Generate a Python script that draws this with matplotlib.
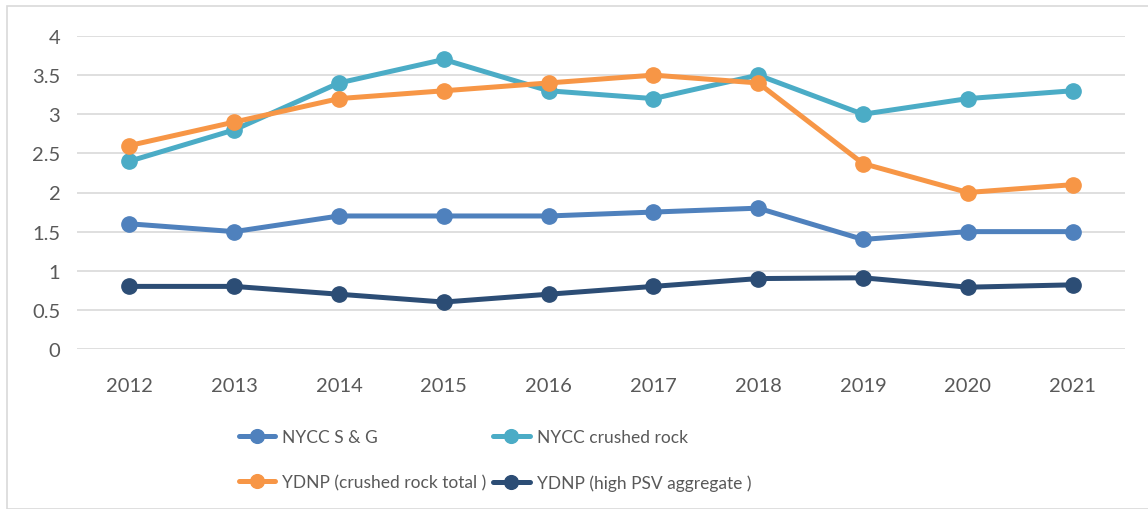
import matplotlib.pyplot as plt
from matplotlib.patches import Rectangle

years = ['2012', '2013', '2014', '2015', '2016', '2017', '2018', '2019', '2020', '2021']

nycc_sg = [1.6, 1.5, 1.7, 1.7, 1.7, 1.75, 1.8, 1.4, 1.5, 1.5]
nycc_crushed = [2.4, 2.8, 3.4, 3.7, 3.3, 3.2, 3.5, 3.0, 3.2, 3.3]
ydnp_total = [2.6, 2.9, 3.2, 3.3, 3.4, 3.5, 3.4, 2.37, 2.0, 2.1]
ydnp_psv = [0.8, 0.8, 0.7, 0.6, 0.7, 0.8, 0.9, 0.91, 0.79, 0.82]

series = [
    ('NYCC S & G', nycc_sg, '#4F81BD'),
    ('NYCC crushed rock', nycc_crushed, '#4BACC6'),
    ('YDNP (crushed rock total )', ydnp_total, '#F79646'),
    ('YDNP (high PSV aggregate )', ydnp_psv, '#2C4D75'),
]

plt.rcParams['font.family'] = ['Lato', 'DejaVu Sans']

fig = plt.figure(figsize=(11.48, 5.10), dpi=100)
ax = fig.add_axes([77 / 1148, 1 - 350 / 510, 1048 / 1148, 313 / 510])

x = list(range(len(years)))
lines = []
for label, values, color in series:
    ln, = ax.plot(x, values, color=color, lw=3.6, marker='o', ms=11,
                  solid_capstyle='round', label=label)
    lines.append(ln)

ax.set_xlim(-0.5, len(years) - 0.5)
ax.set_ylim(0, 4)
ax.set_yticks([0, 0.5, 1, 1.5, 2, 2.5, 3, 3.5, 4])
ax.set_yticklabels(['0', '0.5', '1', '1.5', '2', '2.5', '3', '3.5', '4'])
ax.set_xticks(x)
ax.set_xticklabels(years)
ax.tick_params(axis='both', length=0, labelsize=14.5, labelcolor='#595959')
ax.tick_params(axis='x', pad=20)
ax.tick_params(axis='y', pad=12)
ax.grid(axis='y', color='#D9D9D9', lw=1.2)
ax.set_axisbelow(True)
for s in ax.spines.values():
    s.set_visible(False)

# outer chart frame
fig.patches.append(Rectangle((7 / 1148, 0), 1150 / 1148, 503 / 510,
                             transform=fig.transFigure, fill=False,
                             edgecolor='#D9D9D9', lw=1.2))

# legend is filled column by column, so reorder to get rows like the original
order = [0, 2, 1, 3]
fig.legend([lines[i] for i in order], [series[i][0] for i in order],
           ncol=2, loc='upper left',
           bbox_to_anchor=(223 / 1148, 1 - 414 / 510),
           frameon=False, labelcolor='#595959', fontsize=12.5,
           handlelength=2.1, handletextpad=0.4, columnspacing=0.4,
           labelspacing=1.7, markerscale=0.9)

fig.savefig('out.png', dpi=100)
